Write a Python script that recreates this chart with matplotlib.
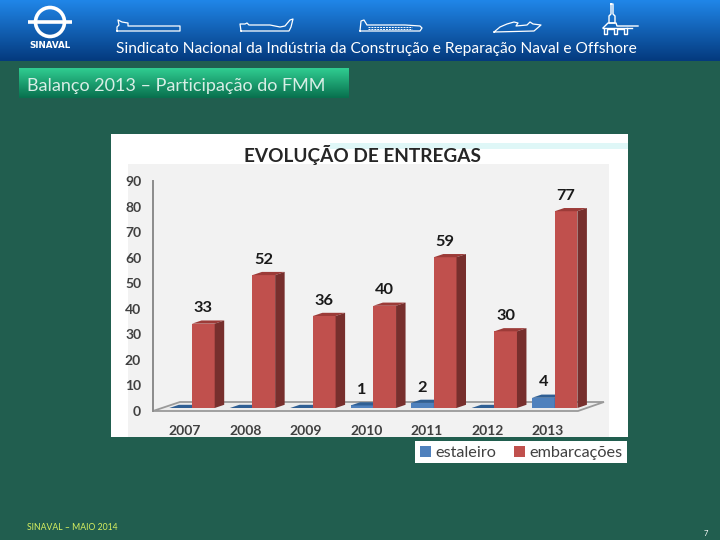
import numpy as np
import matplotlib
matplotlib.use("Agg")
import matplotlib.pyplot as plt
from matplotlib.patches import Polygon, Rectangle, Circle
from matplotlib.transforms import ScaledTranslation

years = ["2007", "2008", "2009", "2010", "2011", "2012", "2013"]
estaleiro = [0, 0, 0, 1, 2, 0, 4]
embarcacoes = [33, 52, 36, 40, 59, 30, 77]
y_ticks = [0, 10, 20, 30, 40, 50, 60, 70, 80, 90]
series_names = ["estaleiro", "embarcações"]
chart_title = "EVOLUÇÃO DE ENTREGAS"
header_text = "Sindicato Nacional da Indústria da Construção e Reparação Naval e Offshore"
section_text = "Balanço 2013 – Participação do FMM"
footer_text = "SINAVAL – MAIO 2014"
page_number = "7"

plt.rcParams['font.family'] = ['Lato', 'DejaVu Sans']
W, H = 720, 540
fig = plt.figure(figsize=(W / 100, H / 100), dpi=100, facecolor="#215e4f")

# ---------- slide background in pixel coordinates ----------
bg = fig.add_axes([0, 0, 1, 1], zorder=0)
bg.set_xlim(0, W); bg.set_ylim(H, 0); bg.axis("off")

def vgrad(ax, x0, x1, y0, y1, c0, c1, z=1):
    c0, c1 = np.array(c0) / 255, np.array(c1) / 255
    t = np.linspace(0, 1, 64)[:, None, None]
    img = c0[None, None, :] * (1 - t) + c1[None, None, :] * t
    ax.imshow(img, extent=(x0, x1, y1, y0), aspect="auto", zorder=z, interpolation="bilinear")

vgrad(bg, 0, W, 0, 61, (32, 134, 232), (4, 58, 126))
vgrad(bg, 19, 349, 68, 98, (48, 205, 145), (8, 112, 78))
bg.set_xlim(0, W); bg.set_ylim(H, 0)

# logo
bg.add_patch(Circle((50, 22), 14.5, fill=False, ec="white", lw=2.6, zorder=3))
bg.plot([28, 72], [21.5, 21.5], color="white", lw=2.6, zorder=4, solid_capstyle="butt")
bg.text(50, 46, "SINAVAL", color="white", fontsize=6.3, fontweight="bold", ha="center", va="center",
        family="DejaVu Sans", zorder=4)

# ship outlines
ships = [
    [(117, 31), (117, 27), (119, 25), (118, 20), (122, 22), (128, 23), (128, 26), (180, 26), (180, 31), (117, 31)],
    [(241, 31), (240, 24), (245, 24), (247, 23), (249, 25), (270, 25), (280, 27), (285, 26), (290, 20), (293, 19),
     (291, 27), (289, 31), (241, 31)],
    [(360, 31), (361, 21), (364, 20), (367, 25), (405, 25), (420, 26), (422, 28), (420, 31), (360, 31)],
    [(494, 32), (500, 27), (507, 24), (514, 22), (518, 23), (516, 26), (527, 25), (530, 22), (533, 24), (541, 25),
     (534, 31), (494, 32)],
]
for s in ships:
    xs, ys = zip(*s)
    bg.plot(xs, ys, color="white", lw=0.9, zorder=3)
for yy in (26.5, 28.5):
    bg.plot([368, 412], [yy, yy], color="white", lw=0.7, ls=(0, (2, 1)), zorder=3)
rig = [
    [(611, 4), (611, 14), (609, 16), (609, 23), (615, 23), (615, 16), (613, 14), (613, 4), (611, 4)],
    [(603, 28), (608, 23), (616, 23), (617, 26), (638, 26)],
    [(604, 28), (604, 34), (607, 34), (607, 29), (614, 29), (614, 34), (617, 34), (617, 29), (624, 29), (624, 34),
     (627, 34), (627, 28)],
    [(603, 28), (632, 28)],
]
for s in rig:
    xs, ys = zip(*s)
    bg.plot(xs, ys, color="white", lw=1.0, zorder=3)

bg.text(116, 49, header_text, color="white", fontsize=11.2, va="center", ha="left", zorder=4)
bg.text(27, 85.5, section_text, color="#d8eee6", fontsize=13, va="center", ha="left", zorder=4)
bg.text(27, 527, footer_text, color="#d8f060", fontsize=6.2, va="center", ha="left", zorder=4)
bg.text(706, 533, page_number, color="white", fontsize=5.5, va="center", ha="center", zorder=4)

# chart picture panel
bg.add_patch(Rectangle((111, 134), 517, 303, fc="white", ec="none", zorder=2))
bg.add_patch(Rectangle((330, 143), 298, 6, fc="#dff7f7", ec="none", zorder=2))
bg.add_patch(Rectangle((128, 164), 481, 273, fc="#f2f2f2", ec="none", zorder=2))
bg.text(362, 155, chart_title, color="#262626", fontsize=13.7, fontweight="bold", ha="center", va="center", zorder=5)

# ---------- chart axes: value 0 at y=408 px, value 90 at y=178 px ----------
ax_left, ax_right, ax_top, ax_bottom = 153, 600, 178, 408
ax = fig.add_axes([ax_left / W, 1 - ax_bottom / H, (ax_right - ax_left) / W, (ax_bottom - ax_top) / H],
                  zorder=3, facecolor="none")
px_per_cat = 60.45
first_center_px = 192
ax.set_xlim((ax_left - first_center_px) / px_per_cat, (ax_right - first_center_px) / px_per_cat)
ax.set_ylim(0, 90)
px_y = (ax_bottom - ax_top) / 90
dx_unit = 1 / px_per_cat
dy_unit = 1 / px_y

x = np.arange(len(years))
bw = 22.7 * dx_unit
depth_x, depth_y = 9.5 * dx_unit, 3.2 * dy_unit

RED, RED_TOP, RED_SIDE = "#c0504d", "#9c3b38", "#772f2d"
BLUE, BLUE_TOP = "#4f81bd", "#2f5f94"

# floor
fl = -3 * dy_unit
back = 6 * dy_unit
floor = Polygon([(-0.645, fl), (6.385, fl), (6.815, back), (-0.2, back)],
                closed=True, fc="#ececec", ec="#9a9a9a", lw=1.3, zorder=1, clip_on=False)
ax.add_patch(floor)
ax.plot([-0.645, -0.645], [fl, 88.9], color="#8c8c8c", lw=1.4, zorder=1, clip_on=False)

def box(x0, v, front, top, side, z):
    ax.bar(x0, v, bw, align="edge", color=front, zorder=z, clip_on=False)
    ax.add_patch(Polygon([(x0, v), (x0 + bw, v), (x0 + bw + depth_x, v + depth_y), (x0 + depth_x, v + depth_y)],
                         closed=True, fc=top, ec="none", zorder=z, clip_on=False))
    ax.add_patch(Polygon([(x0 + bw, 0), (x0 + bw + depth_x, depth_y), (x0 + bw + depth_x, v + depth_y), (x0 + bw, v)],
                         closed=True, fc=side, ec="none", zorder=z, clip_on=False))

for i in x:
    box(i - bw, estaleiro[i], BLUE, BLUE_TOP, BLUE_TOP, 2 + i * 0.1)
    box(float(i), embarcacoes[i], RED, RED_TOP, RED_SIDE, 2.05 + i * 0.1)
    ax.annotate(str(embarcacoes[i]), (i + bw / 2, embarcacoes[i]), xytext=(0, 6), textcoords="offset points",
                ha="center", va="bottom", fontsize=11.8, fontweight="bold", color="#1a1a1a", zorder=6)
    if estaleiro[i] > 0:
        ax.annotate(str(estaleiro[i]), (i - bw / 2, estaleiro[i]), xytext=(0, 6), textcoords="offset points",
                    ha="center", va="bottom", fontsize=11.8, fontweight="bold", color="#1a1a1a", zorder=6)

for s in ax.spines.values():
    s.set_visible(False)
off_y = ScaledTranslation(0, -3 / 100, fig.dpi_scale_trans)
ax.set_yticks(y_ticks)
ax.tick_params(axis="y", length=0, pad=8.5, labelsize=10, labelcolor="#404040")
for lab in ax.get_yticklabels():
    lab.set_fontweight("bold")
    lab.set_transform(lab.get_transform() + off_y)
ax.set_xticks(x - 7 * dx_unit)
ax.set_xticklabels(years)
ax.tick_params(axis="x", length=0, pad=12, labelsize=10, labelcolor="#404040")
for lab in ax.get_xticklabels():
    lab.set_fontweight("bold")

# legend in its own white box
bg.add_patch(Rectangle((415, 441), 212, 22, fc="white", ec="none", zorder=2))
handles = [Rectangle((0, 0), 1, 1, fc=BLUE), Rectangle((0, 0), 1, 1, fc=RED)]
fig.legend(handles, series_names, loc="center", bbox_to_anchor=(521 / W, 1 - 453 / H), ncol=2, frameon=False,
           fontsize=11.7, labelcolor="#404040", handlelength=0.7, handleheight=0.7, handletextpad=0.25,
           columnspacing=1.1, borderpad=0)

fig.savefig("out.png", dpi=100, facecolor=fig.get_facecolor())
